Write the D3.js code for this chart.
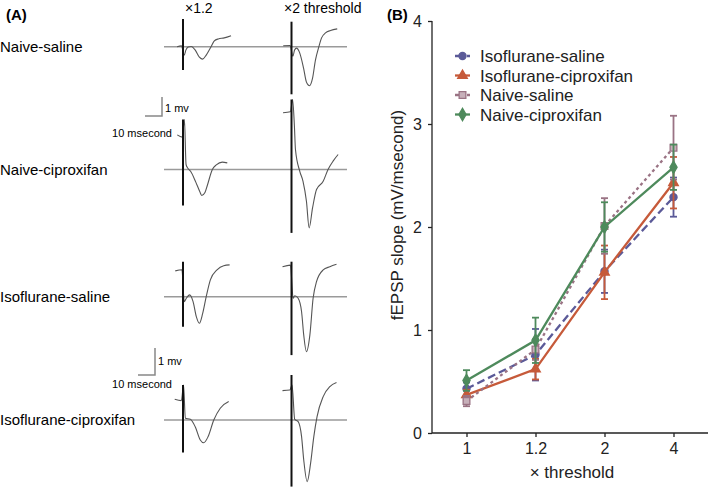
<!DOCTYPE html>
<html>
<head>
<meta charset="utf-8">
<script src="https://cdn.jsdelivr.net/npm/d3@7"></script>
<style>
  html, body { margin: 0; padding: 0; background: #fff; }
  svg { display: block; font-family: "Liberation Sans", Arial, sans-serif; }
</style>
</head>
<body>
<svg id="chart" width="709" height="488"></svg>
<script>
// ---------------- Panel A data (time ms, voltage mV relative to baseline) ----------------
const traceRowNames = ["Naive-saline", "Naive-ciproxifan", "Isoflurane-saline", "Isoflurane-ciproxifan"];
const traceColNames = ["×1.2", "×2 threshold"];

const naiveSaline12 = [[-3.3,0],[-0.9,0.04],[0.7,-0.42],[1.6,-0.17],[2.9,-0.02],[4.6,0.01],[6.8,-0.17],[9.1,-0.52],[10.9,-0.62],[12.9,-0.42],[15.6,0],[17.4,0.29],[19.6,0.39],[22.9,0.44],[26.7,0.55]];
const naiveSaline2 = [[-4.6,0.05],[-0.8,0.06],[0.8,-0.47],[1.7,-0.17],[2.8,-0.07],[4.4,-0.27],[6.7,-1.07],[8.3,-1.77],[10,-1.95],[11.7,-1.57],[13.3,-0.67],[15.2,0],[16.7,0.44],[18.9,0.69],[21.7,0.81],[25.4,0.89]];
const naiveCipro12 = [[-3.2,1.73],[-0.4,1.62],[0.8,2.5],[1.7,0.25],[2.8,0.05],[4.3,-0.1],[7.1,-0.63],[9.3,-1.1],[10.4,-1.3],[12.2,-1.15],[13.5,-0.8],[16.3,0],[18.5,0.23],[21.8,0.37],[24.6,0.33]];
const naiveCipro2 = [[-4.7,2.84],[-0.6,2.89],[0.6,3.5],[1.6,2.2],[2.2,1.0],[4.6,-0.09],[6.4,-0.59],[8.3,-1.59],[9.8,-2.92],[11.7,-1.92],[13.9,-1.0],[17.6,-0.59],[20.3,0],[23.1,0.42],[25.9,0.75]];
const isoSaline12 = [[-4.3,1.29],[-0.6,1.35],[0.7,-0.25],[1.7,-0.1],[3.7,0.09],[5.6,-0.25],[7.4,-1.0],[9.1,-1.33],[10.9,-0.85],[12.9,0],[15.2,0.84],[18.9,1.34],[22.6,1.55],[25.9,1.59]];
const isoSaline2 = [[-5,1.5],[-0.6,1.58],[0.9,-0.08],[1.8,0.05],[3.7,-0.08],[5.6,-0.75],[6.8,-1.92],[8.3,-2.75],[10.2,-1.92],[12,-0.08],[13.9,0.75],[17.6,1.34],[21.3,1.5],[25,1.62]];
const isoCipro12 = [[-4.6,1.04],[-0.9,0.97],[0.3,1.75],[1.3,0.09],[4.1,0.04],[6.8,-0.34],[9.6,-1.0],[11.5,-1.14],[13.9,-0.84],[17.1,0],[20.7,0.59],[25.4,0.92]];
const isoCipro2 = [[-5,1.47],[-0.9,1.5],[0.3,1.75],[1.8,0.03],[3.7,-0.08],[5.6,-0.83],[6.8,-2.0],[8.7,-3.08],[10.6,-2.17],[12.4,-0.83],[14.2,0.17],[17.6,1.17],[21.3,1.67],[25,1.87]];
const traces = [[naiveSaline12, naiveSaline2],[naiveCipro12, naiveCipro2],[isoSaline12, isoSaline2],[isoCipro12, isoCipro2]];
// stimulus artifact extent [top, bottom] in mV
const stimExtent = [[[1.38,-1.17],[1.25,-2.38]],[[2.5,-1.8],[3.5,-3.17]],[[1.75,-1.5],[1.75,-2.92]],[[1.75,-1.63],[2.25,-3.33]]];

// ---------------- Panel B data ----------------
const thresholds = ["1", "1.2", "2", "4"];
const yTicks = [0, 1, 2, 3, 4];
const seriesNames = ["Isoflurane-saline", "Isoflurane-ciproxifan", "Naive-saline", "Naive-ciproxifan"];
const isoSalineMean = [0.43, 0.76, 1.57, 2.29];
const isoSalineErr  = [0.06, 0.25, 0.21, 0.19];
const isoCiproMean  = [0.37, 0.62, 1.56, 2.43];
const isoCiproErr   = [0.05, 0.10, 0.26, 0.25];
const naiveSalineMean = [0.31, 0.81, 2.01, 2.77];
const naiveSalineErr  = [0.05, 0.10, 0.27, 0.31];
const naiveCiproMean  = [0.51, 0.90, 2.00, 2.58];
const naiveCiproErr   = [0.10, 0.22, 0.24, 0.22];

// ---------------- Drawing ----------------
const svg = d3.select("#chart");
const FONT = '"Liberation Sans", Arial, sans-serif';

// ===== Panel A =====
svg.append("text").attr("x", 6).attr("y", 20).attr("font-size", 15).attr("font-weight", "bold").text("(A)");
const colOrigin = [183, 291.5];
const rowBase = [46.7, 169.5, 296.7, 420];
const colLabelX = [185, 284];
traceColNames.forEach((c, i) => {
  svg.append("text").attr("x", colLabelX[i]).attr("y", 13).attr("font-size", 14).text(c);
});
traceRowNames.forEach((r, i) => {
  svg.append("text").attr("x", 0).attr("y", rowBase[i] + 5).attr("font-size", 15).text(r);
});
const tScale = d3.scaleLinear().domain([0, 10]).range([0, 18]);
traces.forEach((row, ri) => {
  const yS = d3.scaleLinear().domain([0, 1]).range([rowBase[ri], rowBase[ri] - 20]);
  // baseline
  svg.append("line").attr("x1", 164).attr("x2", 347).attr("y1", yS(0)).attr("y2", yS(0))
    .attr("stroke", "#9a9a9a").attr("stroke-width", 1.6);
  row.forEach((tr, ci) => {
    const x0 = colOrigin[ci];
    const line = d3.line().x(d => x0 + tScale(d[0])).y(d => yS(d[1])).curve(d3.curveMonotoneX);
    svg.append("path").attr("d", line(tr)).attr("fill", "none").attr("stroke", "#555").attr("stroke-width", 1.1);
    const se = stimExtent[ri][ci];
    svg.append("line").attr("x1", x0).attr("x2", x0).attr("y1", yS(se[0])).attr("y2", yS(se[1]))
      .attr("stroke", "#111").attr("stroke-width", 2);
  });
});
// scale bars
function scaleBar(xr, yb, mvPx, msPx, ymv, yms) {
  svg.append("path").attr("d", `M${xr - msPx},${yb}H${xr}V${yb - mvPx}`).attr("fill", "none")
    .attr("stroke", "#888").attr("stroke-width", 1.5);
  svg.append("text").attr("x", xr + 3).attr("y", ymv).attr("font-size", 11).text("1 mv");
  svg.append("text").attr("x", 172).attr("y", yms).attr("font-size", 11).attr("text-anchor", "end").text("10 msecond");
}
scaleBar(162, 116, 19, 17, 112, 137);
scaleBar(155, 375, 27, 17, 365, 388);

// ===== Panel B =====
const mB = { left: 432, right: 708, top: 21, bottom: 433 };
const x = d3.scalePoint().domain(thresholds).range([mB.left, mB.right]).padding(0.5);
const y = d3.scaleLinear().domain([0, 4]).range([mB.bottom, mB.top]);

svg.append("text").attr("x", 387).attr("y", 20).attr("font-size", 15).attr("font-weight", "bold").text("(B)");

const yAxis = svg.append("g").attr("transform", `translate(${mB.left},0)`)
  .call(d3.axisLeft(y).tickValues(yTicks).tickFormat(d3.format("d")).tickSize(4).tickPadding(6));
const xAxis = svg.append("g").attr("transform", `translate(0,${mB.bottom})`)
  .call(d3.axisBottom(x).tickSize(4).tickPadding(6));
[yAxis, xAxis].forEach(a => {
  a.select(".domain").attr("stroke", "#222").attr("stroke-width", 1.3);
  a.selectAll(".tick line").attr("stroke", "#222").attr("stroke-width", 1.3);
  a.selectAll(".tick text").attr("font-size", 16).attr("font-family", FONT).attr("fill", "#222");
});
// remove outer ticks handled by d3 (tickSizeOuter default 6) -> redraw domain clean
yAxis.select(".domain").attr("d", `M0,${mB.top}V${mB.bottom}`);
xAxis.select(".domain").attr("d", `M${mB.left},0H${mB.right}`);

svg.append("text").attr("x", 572).attr("y", 478).attr("font-size", 17).attr("text-anchor", "middle").attr("fill", "#222").text("× threshold");
svg.append("text").attr("transform", "translate(403,215) rotate(-90)").attr("font-size", 17)
  .attr("text-anchor", "middle").attr("fill", "#222").text("fEPSP slope (mV/msecond)");

const series = [
  { name: seriesNames[0], mean: isoSalineMean, err: isoSalineErr, color: "#5b5a98", dash: "8,4", sym: d3.symbolCircle, size: 40, fill: "#5b5a98" },
  { name: seriesNames[1], mean: isoCiproMean, err: isoCiproErr, color: "#c65a3a", dash: null, sym: d3.symbolTriangle, size: 40, fill: "#c65a3a" },
  { name: seriesNames[2], mean: naiveSalineMean, err: naiveSalineErr, color: "#9a7384", dash: "3,3", sym: d3.symbolSquare, size: 45, fill: "#c7b0ba" },
  { name: seriesNames[3], mean: naiveCiproMean, err: naiveCiproErr, color: "#4e8a5c", dash: null, sym: d3.symbolDiamond, size: 45, fill: "#4e8a5c" }
];

series.forEach(s => {
  const g = svg.append("g");
  const pts = thresholds.map((t, i) => ({ t, m: s.mean[i], e: s.err[i] }));
  // error bars
  pts.forEach(p => {
    const cx = x(p.t);
    g.append("line").attr("x1", cx).attr("x2", cx).attr("y1", y(p.m + p.e)).attr("y2", y(p.m - p.e))
      .attr("stroke", s.color).attr("stroke-width", 1.8);
    [p.m + p.e, p.m - p.e].forEach(v => {
      g.append("line").attr("x1", cx - 3.5).attr("x2", cx + 3.5).attr("y1", y(v)).attr("y2", y(v))
        .attr("stroke", s.color).attr("stroke-width", 1.8);
    });
  });
  const line = d3.line().x(d => x(d.t)).y(d => y(d.m));
  g.append("path").attr("d", line(pts)).attr("fill", "none").attr("stroke", s.color)
    .attr("stroke-width", 2.3).attr("stroke-dasharray", s.dash);
  pts.forEach(p => {
    g.append("path").attr("d", d3.symbol().type(s.sym).size(s.size)())
      .attr("transform", `translate(${x(p.t)},${y(p.m)})`)
      .attr("fill", s.fill).attr("stroke", s.color).attr("stroke-width", 1.3);
  });
});

// legend
const legY = [56, 75.5, 95, 114.5];
series.forEach((s, i) => {
  const g = svg.append("g").attr("transform", `translate(455,${legY[i]})`);
  g.append("line").attr("x1", 0).attr("x2", 15).attr("y1", 0).attr("y2", 0)
    .attr("stroke", s.color).attr("stroke-width", 2.3).attr("stroke-dasharray", s.dash ? "4,2" : null);
  g.append("path").attr("d", d3.symbol().type(s.sym).size(s.size)()).attr("transform", "translate(7.5,0)")
    .attr("fill", s.fill).attr("stroke", s.color).attr("stroke-width", 1.3);
  g.append("text").attr("x", 25).attr("y", 6).attr("font-size", 17).attr("fill", "#222").text(s.name);
});
</script>
</body>
</html>
